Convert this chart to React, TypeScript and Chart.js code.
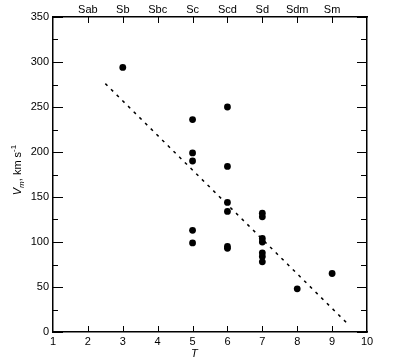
import React, { useEffect, useRef } from "react";
import { Chart, registerables } from "chart.js";

Chart.register(...registerables);

const tValues = [3, 5, 5, 5, 5, 5, 6, 6, 6, 6, 6, 6, 7, 7, 7, 7, 7, 7, 7, 8, 9];
const vmValues = [294, 236, 199, 190, 113, 99, 250, 184, 144, 134, 95, 93, 132, 128, 104, 100, 88, 84, 78, 48, 65];
const fitT = [2.5, 9.5];
const fitV = [276, 7];
const typeLabels = ["Sab", "Sb", "Sbc", "Sc", "Scd", "Sd", "Sdm", "Sm"]; // T = 2..9
const xTicks = [1, 2, 3, 4, 5, 6, 7, 8, 9, 10];
const yTicks = [0, 50, 100, 150, 200, 250, 300, 350];

const FONT = "'Liberation Sans', Arial, Helvetica, sans-serif";

const tickPlugin = {
  id: "innerTicks",
  afterDraw(chart: any) {
    const ctx = chart.ctx;
    const { x, x2, y } = chart.scales;
    const area = chart.chartArea;
    ctx.save();
    ctx.strokeStyle = "#000";
    ctx.lineWidth = 1;
    ctx.beginPath();
    for (let v = 0; v <= 350; v += 25) {
      const py = Math.round(y.getPixelForValue(v)) + 0.5;
      const major = v % 50 === 0;
      ctx.moveTo(area.left, py);
      ctx.lineTo(area.left + (major ? 10 : 5), py);
      ctx.moveTo(area.right, py);
      ctx.lineTo(area.right - (major ? 10 : 6), py);
    }
    for (let v = 2; v <= 9; v++) {
      const px = Math.round(x.getPixelForValue(v)) + 0.5;
      ctx.moveTo(px, area.bottom);
      ctx.lineTo(px, area.bottom - 6);
      const px2 = Math.round(x2.getPixelForValue(v)) + 0.5;
      ctx.moveTo(px2, area.top);
      ctx.lineTo(px2, area.top + 6);
    }
    ctx.stroke();

    // y axis title: V_m, km s^-1
    ctx.fillStyle = "#000";
    ctx.textBaseline = "alphabetic";
    const parts = [
      { t: "V", f: `italic 11px ${FONT}`, dy: 0 },
      { t: "m", f: `italic 8px ${FONT}`, dy: 3 },
      { t: ", km s", f: `11px ${FONT}`, dy: 0 },
      { t: "-1", f: `8px ${FONT}`, dy: -5 },
    ];
    let total = 0;
    for (const p of parts) {
      ctx.font = p.f;
      total += ctx.measureText(p.t).width;
    }
    ctx.translate(21, 170);
    ctx.rotate(-Math.PI / 2);
    let cx = -total / 2;
    for (const p of parts) {
      ctx.font = p.f;
      ctx.fillText(p.t, cx, p.dy);
      cx += ctx.measureText(p.t).width;
    }
    ctx.restore();

    ctx.save();
    ctx.fillStyle = "#000";
    ctx.font = `italic 11px ${FONT}`;
    ctx.textAlign = "center";
    ctx.textBaseline = "middle";
    ctx.fillText("T", x.getPixelForValue(5.05), 354);
    ctx.restore();
  },
};

export default function App() {
  const ref = useRef<HTMLCanvasElement | null>(null);
  useEffect(() => {
    if (!ref.current) return;
    const tickFont = { family: FONT, size: 11 };
    const chart = new Chart(ref.current, {
      type: "scatter",
      data: {
        datasets: [
          {
            label: "Vm",
            data: tValues.map((t, i) => ({ x: t, y: vmValues[i] })),
            backgroundColor: "#000",
            borderColor: "#000",
            pointRadius: 3.4,
            pointHoverRadius: 3.4,
            borderWidth: 0,
          },
          {
            label: "fit",
            data: fitT.map((t, i) => ({ x: t, y: fitV[i] })),
            showLine: true,
            borderColor: "#000",
            borderWidth: 1.5,
            borderDash: [3, 5],
            pointRadius: 0,
            fill: false,
          } as any,
        ],
      },
      options: {
        animation: false,
        responsive: false,
        maintainAspectRatio: false,
        layout: { padding: 0 },
        plugins: { legend: { display: false }, tooltip: { enabled: false } },
        scales: {
          x: {
            type: "linear",
            position: "bottom",
            min: 1,
            max: 10,
            afterBuildTicks: (s: any) => {
              s.ticks = xTicks.map((v) => ({ value: v }));
            },
            afterFit: (s: any) => {
              s.height = 32;
            },
            ticks: { font: tickFont, color: "#000", padding: 3, maxRotation: 0, autoSkip: false },
            grid: { display: false, drawTicks: false },
            border: { display: true, color: "#000", width: 1.5 },
          },
          x2: {
            type: "linear",
            position: "top",
            min: 1,
            max: 10,
            afterBuildTicks: (s: any) => {
              s.ticks = typeLabels.map((_, i) => ({ value: i + 2 }));
            },
            afterFit: (s: any) => {
              s.height = 17;
            },
            ticks: {
              font: tickFont,
              color: "#000",
              padding: 0,
              maxRotation: 0,
              autoSkip: false,
              callback: (v: any) => typeLabels[Number(v) - 2] ?? "",
            },
            grid: { display: false, drawTicks: false },
            border: { display: true, color: "#000", width: 1.5 },
          },
          y: {
            type: "linear",
            position: "left",
            min: 0,
            max: 350,
            afterBuildTicks: (s: any) => {
              s.ticks = yTicks.map((v) => ({ value: v }));
            },
            afterFit: (s: any) => {
              s.width = 53;
            },
            ticks: { font: tickFont, color: "#000", padding: 4, autoSkip: false },
            grid: { display: false, drawTicks: false },
            border: { display: true, color: "#000", width: 1.5 },
          },
          y2: {
            type: "linear",
            position: "right",
            min: 0,
            max: 350,
            afterFit: (s: any) => {
              s.width = 28;
            },
            ticks: { display: false },
            grid: { display: false, drawTicks: false },
            border: { display: true, color: "#000", width: 1.5 },
          },
        },
      } as any,
      plugins: [tickPlugin],
    });
    return () => chart.destroy();
  }, []);
  return (
    <div style={{ position: "fixed", left: 0, top: 0, width: 395, height: 364, background: "#fff" }}>
      <canvas ref={ref} width={395} height={364} style={{ display: "block", width: 395, height: 364 }} />
    </div>
  );
}
